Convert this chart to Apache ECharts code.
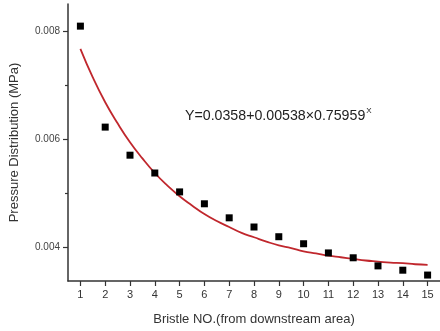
<!DOCTYPE html>
<html>
<head>
<meta charset="utf-8">
<script src="https://cdn.jsdelivr.net/npm/echarts@6/dist/echarts.min.js"></script>
<style>
  html, body { margin: 0; padding: 0; background: #fff; }
  #chart { width: 440px; height: 331px; }
</style>
</head>
<body>
<div id="chart"></div>
<script>
// measured pressure per bristle
const bristleNo = [1, 2, 3, 4, 5, 6, 7, 8, 9, 10, 11, 12, 13, 14, 15]
const pressure = [0.00809, 0.00622, 0.00570, 0.00537, 0.00502, 0.00480, 0.00454, 0.00437,
  0.00419, 0.00406, 0.00389, 0.00380, 0.00365, 0.00357, 0.00348]

// fitted curve
const fitX = [1, 1.5, 2, 2.5, 3, 3.5, 4, 4.5, 5, 5.5, 6, 6.5, 7, 7.5, 8, 8.5, 9, 9.5,
  10, 10.5, 11, 11.5, 12, 12.5, 13, 13.5, 14, 14.5, 15]
const fitY = [0.00767, 0.00714, 0.00668, 0.00629, 0.00594, 0.00564, 0.00537, 0.00514,
  0.00494, 0.00477, 0.00461, 0.00448, 0.00437, 0.00426, 0.00418, 0.00410, 0.00403,
  0.00398, 0.00392, 0.00388, 0.00384, 0.00381, 0.00378, 0.00375, 0.00373, 0.00371,
  0.00370, 0.00368, 0.00367]

const yMajor = [0.004, 0.006, 0.008]
const yMinor = [0.005, 0.007]

const chart = echarts.init(document.getElementById('chart'))
const font = 'Liberation Sans, Arial, sans-serif'
const axisColor = '#333'

const yBase = {
  type: 'value',
  position: 'left',
  min: 0.00337,
  max: 0.0085,
  splitLine: { show: false },
  axisLine: { show: true, lineStyle: { color: axisColor, width: 1.5 } }
}

const option = {
  animation: false,
  backgroundColor: '#fff',
  textStyle: { fontFamily: font },
  grid: { left: 68, right: -4, top: 4, bottom: 50 },
  xAxis: {
    type: 'value',
    min: 0.5,
    max: 15.5,
    name: 'Bristle NO.(from downstream area)',
    nameLocation: 'middle',
    nameGap: 32,
    nameTextStyle: { fontSize: 13, color: '#333', fontFamily: font },
    splitLine: { show: false },
    axisLine: { lineStyle: { color: axisColor, width: 1.5 } },
    axisTick: { customValues: bristleNo, length: 5, lineStyle: { color: axisColor, width: 1.2 } },
    axisLabel: { customValues: bristleNo, fontSize: 11, color: '#333', margin: 8, fontFamily: font }
  },
  yAxis: [
    Object.assign({}, yBase, {
      name: 'Pressure Distribution (MPa)',
      nameLocation: 'middle',
      nameGap: 47,
      nameTextStyle: { fontSize: 13, color: '#333', fontFamily: font },
      axisTick: { customValues: yMajor, length: 5, lineStyle: { color: axisColor, width: 1.2 } },
      axisLabel: {
        customValues: yMajor, fontSize: 10, color: '#444', margin: 8, fontFamily: font,
        formatter: v => v.toFixed(3)
      }
    }),
    Object.assign({}, yBase, {
      offset: 0,
      axisLine: { show: false },
      axisTick: { customValues: yMinor, length: 3, lineStyle: { color: axisColor, width: 1.2 } },
      axisLabel: { show: false }
    })
  ],
  series: [
    {
      type: 'line',
      data: fitX.map((x, i) => [x, fitY[i]]),
      smooth: true,
      showSymbol: false,
      lineStyle: { color: '#c0272d', width: 1.8 },
      z: 2
    },
    {
      type: 'scatter',
      data: bristleNo.map((x, i) => [x, pressure[i]]),
      symbol: 'rect',
      symbolSize: 7,
      itemStyle: { color: '#000', opacity: 1 },
      z: 3
    }
  ],
  graphic: [
    {
      type: 'text',
      left: 185,
      top: 107,
      style: {
        text: '{m|Y=0.0358+0.00538×0.75959}{s|X}',
        rich: {
          m: { fontSize: 14.2, fill: '#222', fontFamily: font, verticalAlign: 'bottom' },
          s: { fontSize: 8, fill: '#222', fontFamily: font, padding: [0, 0, 8, 1], verticalAlign: 'bottom' }
        }
      }
    }
  ]
}

chart.setOption(option)
</script>
</body>
</html>
